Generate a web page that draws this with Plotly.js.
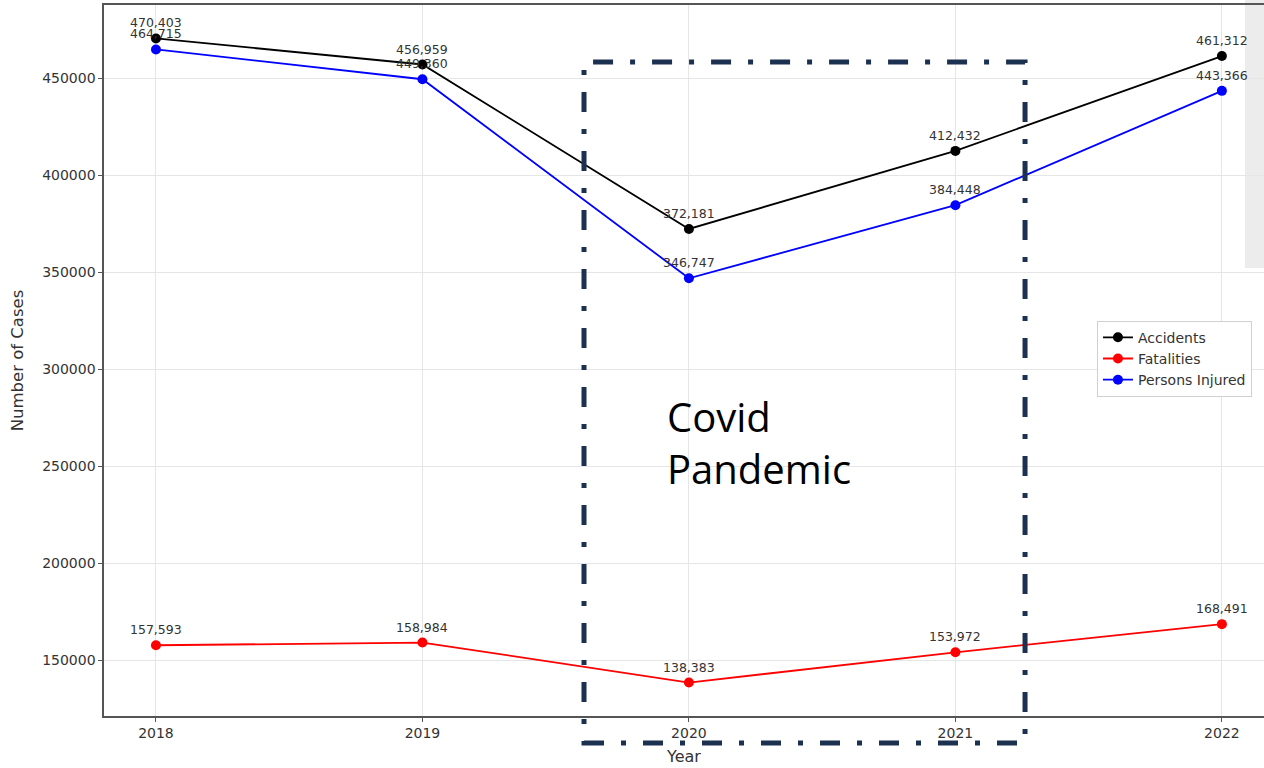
<!DOCTYPE html>
<html>
<head>
<meta charset="utf-8">
<script src="https://cdn.plot.ly/plotly-3.0.1.min.js"></script>
<style>html,body{margin:0;padding:0;background:#fff;}#chart{width:1264px;height:768px;}</style>
</head>
<body>
<div id="chart"></div>
<script>
const years = [2018, 2019, 2020, 2021, 2022];
const accidents = [470403, 456959, 372181, 412432, 461312];
const fatalities = [157593, 158984, 138383, 153972, 168491];
const injured = [464715, 449360, 346747, 384448, 443366];
const seriesNames = ["Accidents", "Fatalities", "Persons Injured"];
const seriesColors = ["#000000", "#ff0000", "#0000ff"];
const yTicks = [150000, 200000, 250000, 300000, 350000, 400000, 450000];

const fmt = v => v.toLocaleString("en-US");
const allSeries = [accidents, fatalities, injured];

const traces = [];
allSeries.forEach((vals, i) => {
  traces.push({
    x: years, y: vals, name: seriesNames[i], type: "scatter", mode: "lines+markers",
    line: {color: seriesColors[i], width: 1.8},
    marker: {color: seriesColors[i], size: 10},
    hoverinfo: "skip"
  });
});

const labelAnnotations = [];
allSeries.forEach((vals) => {
  vals.forEach((v, j) => {
    labelAnnotations.push({
      x: years[j], y: v, xref: "x", yref: "y", text: fmt(v), showarrow: false,
      xanchor: "center", yanchor: "bottom", yshift: 6,
      font: {family: "DejaVu Sans", size: 12.5, color: "#333333"}
    });
  });
});

const layout = {
  width: 1264, height: 768,
  margin: {l: 104, r: 0, t: 5, b: 52},
  paper_bgcolor: "#ffffff", plot_bgcolor: "#ffffff",
  font: {family: "DejaVu Sans", color: "#333333"},
  xaxis: {
    range: [2017.805, 2022.158],
    tickvals: years, ticktext: years.map(String),
    showgrid: true, gridcolor: "#e6e6e6", gridwidth: 1,
    zeroline: false, showline: true, linecolor: "#555555", linewidth: 1.6, mirror: true,
    ticks: "outside", ticklen: 4, tickcolor: "#555555",
    tickfont: {size: 14, color: "#333333"},
    title: {text: "Year", font: {size: 16, color: "#333333"}, standoff: 10}
  },
  yaxis: {
    range: [121134, 487629],
    tickvals: yTicks, ticktext: yTicks.map(String),
    showgrid: true, gridcolor: "#e6e6e6", gridwidth: 1,
    zeroline: false, showline: true, linecolor: "#555555", linewidth: 1.6,
    ticks: "outside", ticklen: 4, tickcolor: "#555555",
    tickfont: {size: 14, color: "#333333"},
    title: {text: "Number of Cases", font: {size: 16.5, color: "#333333"}, standoff: 14}
  },
  legend: {
    x: 0.856, y: 0.556, xanchor: "left", yanchor: "top",
    bgcolor: "rgba(255,255,255,0.9)", bordercolor: "#d0d0d0", borderwidth: 1,
    font: {size: 14, color: "#333333"}, tracegroupgap: 0, itemwidth: 30
  },
  shapes: [
    {type: "rect", xref: "paper", yref: "paper", x0: 0.9836, x1: 1.0, y0: 0.63, y1: 1.01,
     fillcolor: "#ececec", line: {width: 0}, layer: "below"},
    {type: "rect", xref: "paper", yref: "paper", x0: 0.4138, x1: 0.794, y0: -0.038, y1: 0.9198,
     line: {color: "#1c3150", width: 5, dash: "20px,17px,5px,17px"}, fillcolor: "rgba(0,0,0,0)", layer: "above"}
  ],
  annotations: labelAnnotations.concat([
    {xref: "paper", yref: "paper", x: 0.4836, y: 0.385, xanchor: "left", yanchor: "middle",
     text: "Covid<br>Pandemic", showarrow: false, align: "left",
     font: {family: "Open Sans", size: 40, color: "#000000"}}
  ])
};

Plotly.newPlot("chart", traces, layout, {displayModeBar: false, staticPlot: true});
</script>
</body>
</html>
